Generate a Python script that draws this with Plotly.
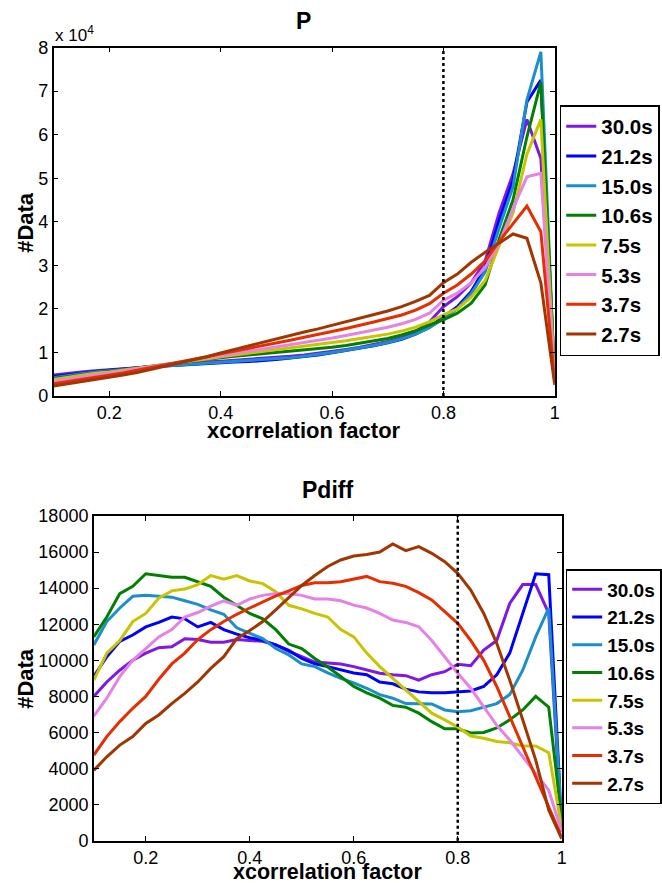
import plotly.graph_objects as go

# ---------------- data ----------------
x_bins = [0.1, 0.125, 0.15, 0.175, 0.2, 0.225, 0.25, 0.275, 0.3, 0.325, 0.35, 0.375,
          0.4, 0.425, 0.45, 0.475, 0.5, 0.525, 0.55, 0.575, 0.6, 0.625, 0.65, 0.675,
          0.7, 0.725, 0.75, 0.775, 0.8, 0.825, 0.85, 0.875, 0.9, 0.925, 0.95, 0.975, 1.0]

series_names = ["30.0s", "21.2s", "15.0s", "10.6s", "7.5s", "5.3s", "3.7s", "2.7s"]

# Panel "P"
p_30_0 = [4800, 5200, 5500, 5800, 6000, 6300, 6500, 6700, 7000, 7300, 7600, 7800, 8000, 8200, 8400, 8600,
          8800, 9100, 9400, 9800, 10200, 10700, 11200, 11800, 12500, 13400, 14700, 17000, 20500, 22800,
          26000, 31000, 42000, 51000, 63500, 54500, 3000]
p_21_2 = [4500, 4900, 5300, 5600, 5900, 6200, 6400, 6700, 6900, 7100, 7300, 7400, 7600, 7800, 7900, 8100,
          8400, 8700, 9000, 9400, 9900, 10400, 11000, 11500, 12200, 13000, 14200, 15800, 18200, 20500,
          24000, 29500, 40300, 49500, 67500, 72500, 3000]
p_15_0 = [4200, 4700, 5100, 5500, 5800, 6100, 6400, 6700, 6900, 7100, 7300, 7500, 7700, 7900, 8100, 8300,
          8500, 8800, 9100, 9500, 10000, 10500, 11000, 11600, 12300, 13100, 14200, 15700, 17800, 20000,
          23500, 28500, 38500, 48000, 68000, 79000, 3000]
p_10_6 = [4000, 4500, 4900, 5300, 5700, 6100, 6500, 6900, 7300, 7700, 8100, 8500, 8800, 9100, 9400, 9700,
          9900, 10200, 10500, 10800, 11200, 11600, 12100, 12600, 13200, 14000, 15000, 16300, 17500, 19000,
          21300, 25500, 36000, 45000, 59500, 72000, 3000]
p_7_5 = [3800, 4300, 4800, 5200, 5500, 6000, 6400, 6800, 7200, 7600, 8000, 8500, 9000, 9400, 9800, 10200,
         10600, 11000, 11400, 11800, 12200, 12700, 13200, 13700, 14200, 14900, 15800, 17000, 18600, 20000,
         22700, 26500, 34500, 42000, 55500, 63500, 3000]
p_5_3 = [3400, 3900, 4400, 4800, 5200, 5700, 6200, 6700, 7200, 7700, 8200, 8700, 9200, 9700, 10200, 10700,
         11200, 11700, 12200, 12700, 13300, 13900, 14500, 15100, 15800, 16600, 17600, 19000, 22000, 23600,
         26000, 29500, 35000, 43000, 50300, 51100, 3000]
p_3_7 = [2800, 3300, 3800, 4300, 4700, 5300, 5900, 6500, 7100, 7700, 8300, 9000, 9700, 10300, 10900, 11600,
         12200, 12800, 13500, 14100, 14800, 15500, 16200, 17000, 17800, 18600, 19700, 21200, 23600, 25500,
         28000, 31000, 35500, 39500, 43600, 37700, 3000]
p_2_7 = [2300, 2800, 3300, 3800, 4200, 4800, 5400, 6100, 6800, 7500, 8200, 9000, 9900, 10700, 11500, 12400,
         13200, 13900, 14700, 15400, 16200, 17000, 17800, 18700, 19500, 20500, 21700, 23100, 26000, 28000,
         30700, 33000, 35000, 37200, 36200, 26000, 2500]

# Panel "Pdiff"
d_30_0 = [8000, 8800, 9450, 10000, 10400, 10700, 10750, 11200, 11150, 11000, 11000, 11150, 11100, 11050,
          10850, 10500, 10200, 9900, 9850, 9800, 9650, 9460, 9280, 9200, 9150, 8900, 9200, 9370, 9780, 9700,
          10570, 11100, 13150, 14200, 14200, 12600, 500]
d_21_2 = [9100, 10200, 11050, 11400, 11850, 12100, 12400, 12300, 11850, 12100, 11700, 11450, 11250, 11100,
          10850, 10550, 10100, 9800, 9650, 9460, 9300, 9200, 8800, 8700, 8400, 8250, 8200, 8200, 8250, 8300,
          8550, 9200, 10400, 12600, 14800, 14750, 800]
d_15_0 = [10850, 12150, 12900, 13550, 13600, 13550, 13500, 13300, 13100, 12800, 12550, 11800, 11500, 11200,
          10650, 10300, 9800, 9650, 9300, 9000, 8750, 8450, 8100, 7900, 7600, 7600, 7580, 7250, 7150, 7200,
          7400, 7600, 8100, 9450, 11300, 12900, 1000]
d_10_6 = [11300, 12400, 13700, 14100, 14800, 14700, 14600, 14600, 14350, 14100, 13500, 13050, 12600, 12300,
          11700, 10900, 10650, 10100, 9630, 9100, 8550, 8200, 7900, 7500, 7400, 7070, 6600, 6200, 6200, 5970,
          6000, 6250, 6700, 7250, 8000, 7400, 1200]
d_7_5 = [8900, 10400, 11100, 12150, 12600, 13450, 13850, 13950, 14200, 14700, 14500, 14700, 14400, 14250,
         13800, 13050, 12850, 12600, 12400, 11700, 11300, 10400, 9650, 9000, 8350, 7700, 7070, 6700, 6300,
         5800, 5680, 5500, 5430, 5250, 5250, 4880, 700]
d_5_3 = [6900, 7900, 9100, 10000, 10650, 11300, 11700, 12400, 12650, 13000, 13300, 13050, 13400, 13600,
         13700, 13700, 13600, 13400, 13400, 13300, 13060, 12900, 12600, 12230, 12100, 11860, 11100, 10200,
         9280, 8450, 7430, 6400, 5580, 4660, 3740, 2800, 500]
d_3_7 = [4750, 5770, 6600, 7340, 8000, 8950, 9800, 10400, 11150, 11700, 12150, 12550, 12900, 13250, 13570,
         13850, 14150, 14300, 14300, 14360, 14500, 14650, 14360, 14270, 14100, 13750, 13350, 12700, 12050,
         11100, 10000, 8550, 6900, 5200, 3550, 1900, 200]
d_2_7 = [3900, 4650, 5300, 5770, 6500, 6970, 7600, 8170, 8800, 9550, 10200, 11200, 11650, 12150, 12800,
         13500, 14150, 14700, 15200, 15560, 15780, 15870, 16000, 16450, 16080, 16300, 15930, 15470, 14820,
         13900, 12600, 10940, 8900, 6700, 4470, 1700, 100]

p_series = [p_30_0, p_21_2, p_15_0, p_10_6, p_7_5, p_5_3, p_3_7, p_2_7]
d_series = [d_30_0, d_21_2, d_15_0, d_10_6, d_7_5, d_5_3, d_3_7, d_2_7]

x_tick_vals = [0.2, 0.4, 0.6, 0.8, 1.0]
x_tick_text = ["0.2", "0.4", "0.6", "0.8", "1"]
p_tick_vals = [0, 10000, 20000, 30000, 40000, 50000, 60000, 70000, 80000]
p_tick_text = ["0", "1", "2", "3", "4", "5", "6", "7", "8"]
d_tick_vals = [0, 2000, 4000, 6000, 8000, 10000, 12000, 14000, 16000, 18000]
threshold = 0.8

# ---------------- styling ----------------
colors = ["#7f17e6", "#0000ff", "#1a8fcc", "#008000", "#c8c400", "#e682e6", "#e62e00", "#a33500"]
FONT = "Liberation Sans, Arial, Helvetica, sans-serif"
W, H = 662, 883


def px_x(p):
    return p / W


def px_y(p):
    return 1 - p / H


fig = go.Figure()

for name, ys, c in zip(series_names, p_series, colors):
    fig.add_trace(go.Scatter(x=x_bins, y=ys, mode="lines", name="<b>%s</b>" % name,
                             line=dict(color=c, width=3), xaxis="x", yaxis="y",
                             legend="legend"))
for name, ys, c in zip(series_names, d_series, colors):
    fig.add_trace(go.Scatter(x=x_bins, y=ys, mode="lines", name="<b>%s</b>" % name,
                             line=dict(color=c, width=3), xaxis="x2", yaxis="y2",
                             legend="legend2"))

axis_common = dict(showline=True, linecolor="black", linewidth=1.5, mirror="ticks",
                   ticks="inside", ticklen=5, tickwidth=1.2, tickcolor="black",
                   showgrid=False, zeroline=False, automargin=False,
                   tickfont=dict(family=FONT, size=18, color="black"))

legend_common = dict(xanchor="left", yanchor="top",
                     bordercolor="black", borderwidth=1.5, bgcolor="white",
                     itemwidth=30, tracegroupgap=0)

fig.update_layout(
    width=W, height=H,
    margin=dict(l=0, r=0, t=0, b=0),
    paper_bgcolor="white", plot_bgcolor="white",
    font=dict(family=FONT, color="black"),
    xaxis=dict(domain=[px_x(54), px_x(559)], range=[0.1, 1.0], anchor="y",
               tickvals=x_tick_vals, ticktext=x_tick_text, **axis_common),
    yaxis=dict(domain=[px_y(396), px_y(47.5)], range=[0, 80000], anchor="x",
               tickvals=p_tick_vals, ticktext=p_tick_text, **axis_common),
    xaxis2=dict(domain=[px_x(94.5), px_x(566)], range=[0.1, 1.0], anchor="y2",
                tickvals=x_tick_vals, ticktext=x_tick_text, **axis_common),
    yaxis2=dict(domain=[px_y(840.7), px_y(516)], range=[0, 18000], anchor="x2",
                tickvals=d_tick_vals, tickformat="d", **axis_common),
    legend=dict(x=px_x(564), y=px_y(105), font=dict(family=FONT, size=20.5, color="black"),
                **legend_common),
    legend2=dict(x=px_x(570), y=px_y(569), font=dict(family=FONT, size=19, color="black"),
                 **legend_common),
    showlegend=True,
)

# threshold lines
fig.add_shape(type="line", xref="x", yref="y domain", x0=threshold, x1=threshold, y0=0, y1=1,
              line=dict(color="black", width=2.5, dash="dot"))
fig.add_shape(type="line", xref="x2", yref="y2 domain", x0=threshold, x1=threshold, y0=0, y1=1,
              line=dict(color="black", width=2.5, dash="dot"))


def label(text, x, y, size=22, angle=0, xanchor="center", yanchor="middle"):
    fig.add_annotation(text=text, xref="paper", yref="paper", x=px_x(x), y=px_y(y),
                       showarrow=False, textangle=angle,
                       font=dict(family=FONT, size=size, color="black"),
                       xanchor=xanchor, yanchor=yanchor)


# panel titles
label("<b>P</b>", 306, 21, size=23)
label("<b>Pdiff</b>", 330, 490, size=23)
# axis titles
label("<b>xcorrelation factor</b>", 306.5, 430)
label("<b>xcorrelation factor</b>", 330, 872, size=21.5)
label("<b>#Data</b>", 25, 222, angle=-90)
label("<b>#Data</b>", 25, 678, angle=-90)
# exponent label
label("x 10<sup>4</sup>", 53, 47, size=17, xanchor="left", yanchor="bottom")

# remove the browser's default 8px page margin so the figure fills the window exactly
fig.write_html("out.html", config={"displayModeBar": False},
               post_script="document.body.style.margin='0';")
